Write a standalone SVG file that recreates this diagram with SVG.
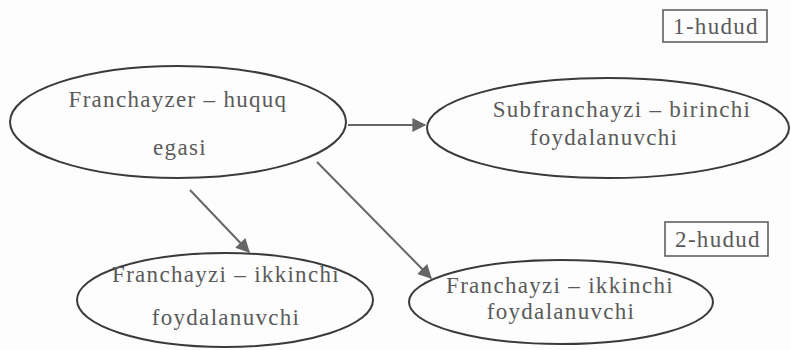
<svg xmlns="http://www.w3.org/2000/svg" width="791" height="350" viewBox="0 0 791 350">
<style>
.node ellipse{fill:none;stroke:#3a3a3a;stroke-width:2}
.box rect{fill:none;stroke:#555;stroke-width:1.5}
text{font-family:"Liberation Serif","Times New Roman",serif;font-size:23px;fill:#5a5a5a;letter-spacing:1.3px;text-anchor:middle}
.conn line{stroke:#666;stroke-width:2}
</style>
<defs>
<marker id="ah" viewBox="0 0 10 10" refX="9" refY="5" markerWidth="8" markerHeight="7" orient="auto" markerUnits="strokeWidth">
<path d="M0,0 L10,5 L0,10 z" fill="#666"/>
</marker>
</defs>
<rect width="791" height="350" fill="#fdfdfd"/>
<g id="franchayzer" class="node">
<ellipse cx="178" cy="122" rx="168" ry="56"/>
<text x="178" y="107">Franchayzer – huquq</text>
<text x="180" y="155">egasi</text>
</g>
<g id="subfranchayzi" class="node">
<ellipse cx="608" cy="128" rx="181" ry="50"/>
<text x="622" y="117">Subfranchayzi – birinchi</text>
<text x="604" y="145">foydalanuvchi</text>
</g>
<g id="franchayzi1" class="node">
<ellipse cx="225" cy="300" rx="148" ry="47"/>
<text x="226" y="282">Franchayzi – ikkinchi</text>
<text x="226" y="325">foydalanuvchi</text>
</g>
<g id="franchayzi2" class="node">
<ellipse cx="561" cy="302" rx="152" ry="42"/>
<text x="560" y="293">Franchayzi – ikkinchi</text>
<text x="561" y="319">foydalanuvchi</text>
</g>
<g id="hudud1" class="box">
<rect x="663" y="10" width="104" height="32"/>
<text x="716" y="34">1-hudud</text>
</g>
<g id="hudud2" class="box">
<rect x="665" y="222" width="103" height="34"/>
<text x="718" y="247">2-hudud</text>
</g>
<g id="connectors" class="conn">
<line x1="348" y1="125" x2="425" y2="125" marker-end="url(#ah)"/>
<line x1="190" y1="190" x2="249" y2="252" marker-end="url(#ah)"/>
<line x1="317" y1="162" x2="431" y2="278" marker-end="url(#ah)"/>
</g>
</svg>
